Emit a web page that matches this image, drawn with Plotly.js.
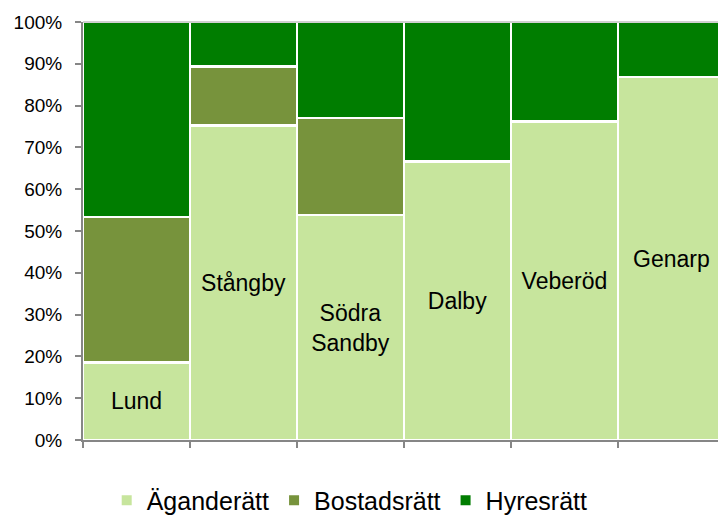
<!DOCTYPE html>
<html>
<head>
<meta charset="utf-8">
<script src="https://cdn.plot.ly/plotly-3.0.1.min.js"></script>
<style>html,body{margin:0;padding:0;background:#fff;}#chart{width:718px;height:518px;}</style>
</head>
<body>
<div id="chart"></div>
<script>
var categories = ["Lund", "Stångby", "Södra Sandby", "Dalby", "Veberöd", "Genarp"];
var barLabels = ["Lund", "Stångby", "Södra<br>Sandby", "Dalby", "Veberöd", "Genarp"];
var agande = [0.185, 0.752, 0.538, 0.666, 0.762, 0.868];
var bostad = [0.348, 0.141, 0.232, 0, 0, 0];
var hyres = [0.467, 0.107, 0.230, 0.334, 0.238, 0.132];
var seriesNames = ["Äganderätt", "Bostadsrätt", "Hyresrätt"];
var seriesColors = ["#c7e59d", "#77933c", "#007d00"];
var yTicks = [0, 0.1, 0.2, 0.3, 0.4, 0.5, 0.6, 0.7, 0.8, 0.9, 1.0];
var yTickLabels = ["0%", "10%", "20%", "30%", "40%", "50%", "60%", "70%", "80%", "90%", "100%"];

var font = "Liberation Sans, Arial, sans-serif";
var lineStyle = {color: "#ffffff", width: 2.5};

var traces = [
  {type: "bar", name: seriesNames[0], x: categories, y: agande, showlegend: false,
   marker: {color: seriesColors[0], line: lineStyle},
   text: barLabels, texttemplate: "%{text}", textposition: "inside", insidetextanchor: "middle",
   constraintext: "none", textangle: 0,
   insidetextfont: {family: font, size: 23, color: "#000000"}, hoverinfo: "none"},
  {type: "bar", name: seriesNames[1], x: categories, y: bostad, showlegend: false,
   marker: {color: seriesColors[1], line: lineStyle}, hoverinfo: "none"},
  {type: "bar", name: seriesNames[2], x: categories, y: hyres, showlegend: false,
   marker: {color: seriesColors[2], line: lineStyle}, hoverinfo: "none"}
];
// legend-only entries with small square swatches
for (var i = 0; i < seriesNames.length; i++) {
  traces.push({type: "scatter", mode: "markers", name: seriesNames[i], x: [null], y: [null],
    marker: {symbol: "square", size: 10, color: seriesColors[i]}, hoverinfo: "none"});
}

var layout = {
  width: 718, height: 518,
  margin: {l: 83, r: 0, t: 22, b: 78, autoexpand: false},
  barmode: "stack", bargap: 0,
  paper_bgcolor: "#ffffff", plot_bgcolor: "#ffffff",
  font: {family: font, color: "#000000"},
  showlegend: true,
  legend: {orientation: "h", x: 0.42, xanchor: "center", y: 0.034, yref: "container", yanchor: "middle",
           font: {family: font, size: 25, color: "#000000"}, traceorder: "normal",
           itemwidth: 30},
  xaxis: {type: "category", range: [-0.5, 5.435], showticklabels: false,
          showline: true, linecolor: "#868686", linewidth: 2,
          ticks: "outside", tickson: "boundaries", ticklen: 6, tickcolor: "#868686", tickwidth: 2,
          showgrid: false, zeroline: false, fixedrange: true},
  yaxis: {range: [0, 1], tickvals: yTicks, ticktext: yTickLabels,
          showline: true, linecolor: "#868686", linewidth: 2,
          ticks: "outside", ticklen: 6, tickcolor: "#868686", tickwidth: 2,
          ticklabelstandoff: 9,
          tickfont: {family: font, size: 19, color: "#000000"},
          showgrid: false, zeroline: false, fixedrange: true},
  shapes: [{type: "line", xref: "paper", yref: "paper", x0: 0, x1: 1, y0: 1, y1: 1,
            line: {color: "#c0c0c0", width: 1.5}}]
};

Plotly.newPlot("chart", traces, layout, {displayModeBar: false, staticPlot: true});
</script>
</body>
</html>
